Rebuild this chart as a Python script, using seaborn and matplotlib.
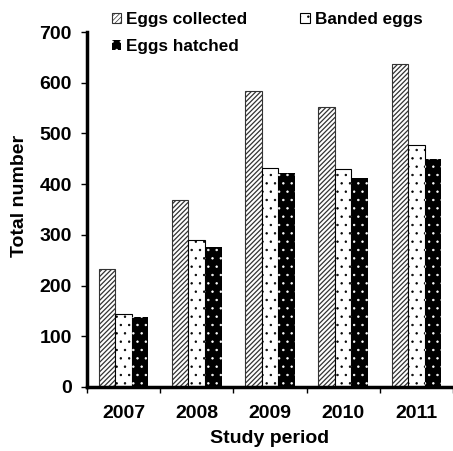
import pandas as pd
import matplotlib.pyplot as plt
import seaborn as sns
from matplotlib.ticker import FixedLocator

years = ["2007", "2008", "2009", "2010", "2011"]
series = ["Eggs collected", "Banded eggs", "Eggs hatched"]
eggs_collected = [232, 369, 583, 552, 637]
banded_eggs = [143, 290, 431, 429, 477]
eggs_hatched = [137, 276, 421, 413, 450]

df = pd.DataFrame({
    "year": years * 3,
    "series": [series[0]] * 5 + [series[1]] * 5 + [series[2]] * 5,
    "value": eggs_collected + banded_eggs + eggs_hatched,
})

sns.set_style("ticks", {"axes.edgecolor": "black", "text.color": "black",
                        "axes.labelcolor": "black", "xtick.color": "black",
                        "ytick.color": "black"})
plt.rcParams["font.family"] = ["Liberation Sans", "DejaVu Sans"]
plt.rcParams["font.weight"] = "bold"
plt.rcParams["hatch.linewidth"] = 0.5

fig = plt.figure(figsize=(4.53, 4.51), dpi=100)
ax = fig.add_axes([0.192, 0.142, 0.808, 0.787])

sns.barplot(data=df, x="year", y="value", hue="series", hue_order=series,
            palette=["white", "white", "black"], width=0.68, gap=0,
            saturation=1, legend=False, ax=ax)

styles = [
    # hatch, face, edge, linewidth, hatch linewidth
    ("///////", "white", "#333333", 0.8, 0.9),
    ("..", "white", "black", 0.8, 0.5),
    ("..", "black", "white", 0.0, 0.5),
]
for cont, (h, fc, ec, lw, hlw) in zip(ax.containers, styles):
    for bar in cont:
        bar.set_hatch(h)
        bar.set_facecolor(fc)
        bar.set_edgecolor(ec)
        bar.set_linewidth(lw)
        if hasattr(bar, "set_hatch_linewidth"):
            bar.set_hatch_linewidth(hlw)

ax.set_ylim(0, 700)
ax.set_xlim(-0.5, 4.5)
ax.set_yticks(range(0, 701, 100))
ax.tick_params(axis="y", direction="out", length=4, width=1, pad=7, labelsize=14)
ax.tick_params(axis="x", which="major", length=0, pad=13, labelsize=14)
ax.xaxis.set_minor_locator(FixedLocator([i - 0.5 for i in range(len(years) + 1)]))
ax.tick_params(axis="x", which="minor", direction="out", length=4, width=1)
for lab in ax.get_xticklabels() + ax.get_yticklabels():
    lab.set_fontweight("bold")

sns.despine(ax=ax)
ax.spines["left"].set_linewidth(2.5)
ax.spines["bottom"].set_linewidth(2.5)

ax.set_xlabel("Study period", fontsize=14, fontweight="bold", labelpad=6)
ax.set_ylabel("Total number", fontsize=14, fontweight="bold")
ax.yaxis.set_label_coords(-0.161, 0.538)

c = ax.containers
fig.legend([c[0], c[2], c[1]], [series[0], series[2], series[1]],
           loc="upper left", bbox_to_anchor=(0.213, 1.008), ncol=2,
           frameon=False, handlelength=0.55, handleheight=0.55,
           handletextpad=0.3, columnspacing=3.1, labelspacing=0.72,
           prop={"size": 12.3, "weight": "bold"})

fig.savefig("out.png", dpi=100)
